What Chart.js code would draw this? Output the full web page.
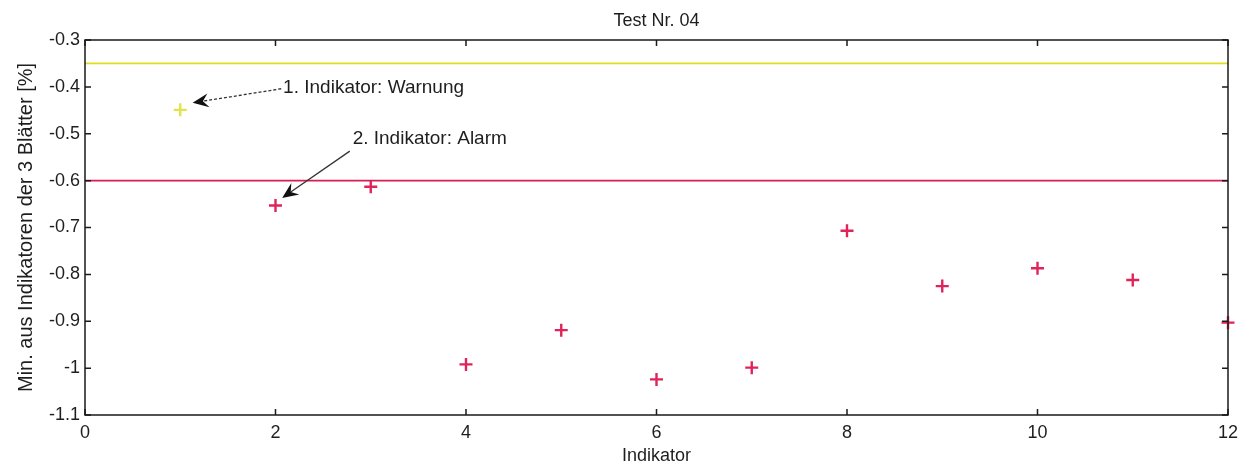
<!DOCTYPE html>
<html>
<head>
<meta charset="utf-8">
<script src="https://cdn.jsdelivr.net/npm/chart.js@4"></script>
<style>
  html, body { margin: 0; padding: 0; background: #fff; }
  #wrap { width: 1250px; height: 467px; }
</style>
</head>
<body>
<div id="wrap"><canvas id="c" width="1250" height="467"></canvas></div>
<script>
// ---- data ----
const titleText = 'Test Nr. 04';
const xTitle = 'Indikator';
const yTitle = 'Min. aus Indikatoren der 3 Blätter [%]';
const indicators = [1, 2, 3, 4, 5, 6, 7, 8, 9, 10, 11, 12];
const minValues = [-0.449, -0.653, -0.613, -0.992, -0.919, -1.024, -0.999, -0.707, -0.825, -0.787, -0.812, -0.903];
const warnLevel = -0.35;
const alarmLevel = -0.6;
const xRange = [0, 12];
const yRange = [-1.1, -0.3];
const xStep = 2;
const yStep = 0.1;
// annotations: text anchor (data units) and arrow from -> to (data units)
const annTexts = ['1. Indikator: Warnung', '2. Indikator: Alarm'];
const annTextPos = [[2.08, -0.402], [2.81, -0.51]];
const annArrowFrom = [[2.06, -0.404], [2.78, -0.537]];
const annArrowTo = [[1.13, -0.434], [2.07, -0.637]];
const annDashed = [true, false];

// ---- styles ----
const RED = '#e0245a';
const REDLINE = '#d81c55';
const YELLOW = '#e0dc22';
const YELLOWPT = '#e2e24c';
const INK = '#1a1a1a';
const TXT = '#1e1e1e';
const FONT = "'Liberation Sans', Arial, sans-serif";

const pts = indicators.map((x, i) => ({ x: x, y: minValues[i] }));
const ptColors = minValues.map(v => v > alarmLevel ? YELLOWPT : RED);

const framePlugin = {
  id: 'frameTicks',
  afterDatasetsDraw(chart) {
    const { ctx, chartArea: a, scales } = chart;
    ctx.save();
    ctx.strokeStyle = INK;
    ctx.lineWidth = 1.5;
    ctx.strokeRect(a.left, a.top, a.right - a.left, a.bottom - a.top);
    const L = 6;
    ctx.beginPath();
    scales.x.ticks.forEach(t => {
      const px = scales.x.getPixelForValue(t.value);
      ctx.moveTo(px, a.bottom); ctx.lineTo(px, a.bottom - L);
      ctx.moveTo(px, a.top); ctx.lineTo(px, a.top + L);
    });
    scales.y.ticks.forEach(t => {
      const py = scales.y.getPixelForValue(t.value);
      ctx.moveTo(a.left, py); ctx.lineTo(a.left + L, py);
      ctx.moveTo(a.right, py); ctx.lineTo(a.right - L, py);
    });
    ctx.stroke();

    // annotations
    ctx.font = '19px ' + FONT;
    ctx.textBaseline = 'middle';
    ctx.textAlign = 'left';
    const X = v => scales.x.getPixelForValue(v);
    const Y = v => scales.y.getPixelForValue(v);
    annTexts.forEach((txt, i) => {
      ctx.fillStyle = TXT;
      ctx.fillText(txt, X(annTextPos[i][0]), Y(annTextPos[i][1]));
      const x0 = X(annArrowFrom[i][0]), y0 = Y(annArrowFrom[i][1]);
      const x1 = X(annArrowTo[i][0]), y1 = Y(annArrowTo[i][1]);
      const ang = Math.atan2(y1 - y0, x1 - x0);
      const hl = 16, hw = 7;
      const bx = x1 - Math.cos(ang) * hl * 0.65, by = y1 - Math.sin(ang) * hl * 0.65;
      ctx.beginPath();
      ctx.setLineDash(annDashed[i] ? [3, 2] : []);
      ctx.strokeStyle = '#333';
      ctx.lineWidth = 1.3;
      ctx.moveTo(x0, y0); ctx.lineTo(bx, by);
      ctx.stroke();
      ctx.setLineDash([]);
      // barbed arrowhead
      const cx = x1 - Math.cos(ang) * hl, cy = y1 - Math.sin(ang) * hl;
      const nx = -Math.sin(ang), ny = Math.cos(ang);
      ctx.beginPath();
      ctx.moveTo(x1, y1);
      ctx.lineTo(cx + nx * hw, cy + ny * hw);
      ctx.lineTo(bx, by);
      ctx.lineTo(cx - nx * hw, cy - ny * hw);
      ctx.closePath();
      ctx.fillStyle = '#111';
      ctx.fill();
    });
    ctx.restore();
  }
};

new Chart(document.getElementById('c'), {
  type: 'scatter',
  data: {
    datasets: [
      {
        type: 'line',
        data: [{ x: xRange[0], y: warnLevel }, { x: xRange[1], y: warnLevel }],
        borderColor: YELLOW, borderWidth: 1.8, pointRadius: 0, fill: false
      },
      {
        type: 'line',
        data: [{ x: xRange[0], y: alarmLevel }, { x: xRange[1], y: alarmLevel }],
        borderColor: REDLINE, borderWidth: 1.8, pointRadius: 0, fill: false
      },
      {
        data: pts,
        pointStyle: 'cross',
        pointRadius: 6.5,
        pointBorderWidth: 2.4,
        pointBorderColor: ptColors,
        pointBackgroundColor: ptColors,
        borderColor: ptColors,
        clip: false
      }
    ]
  },
  options: {
    responsive: false,
    animation: false,
    devicePixelRatio: 1,
    events: [],
    layout: { padding: { top: 0, right: 22, left: 0, bottom: 0 } },
    plugins: {
      legend: { display: false },
      tooltip: { enabled: false },
      title: {
        display: true,
        fullSize: false,
        text: titleText,
        color: TXT,
        font: { family: FONT, size: 18, weight: 'normal' },
        padding: { top: 9.8, bottom: 8.6 }
      }
    },
    scales: {
      x: {
        type: 'linear',
        min: xRange[0], max: xRange[1],
        grid: { display: false, drawTicks: false },
        border: { display: false },
        ticks: {
          stepSize: xStep, padding: 7.4, color: TXT,
          font: { family: FONT, size: 18 },
          maxRotation: 0
        },
        title: {
          display: true, text: xTitle, color: TXT,
          font: { family: FONT, size: 18 },
          padding: { top: 0, bottom: 0 }
        },
        afterFit(s) { s.height = 52; }
      },
      y: {
        type: 'linear',
        min: yRange[0], max: yRange[1],
        grid: { display: false, drawTicks: false },
        border: { display: false },
        ticks: {
          stepSize: yStep, padding: 5, color: TXT,
          font: { family: FONT, size: 18 },
          callback: v => String(parseFloat(Number(v).toFixed(1)))
        },
        title: {
          display: true, text: yTitle, color: TXT,
          font: { family: FONT, size: 20 },
          padding: { top: 14, bottom: 0 }
        },
        afterFit(s) { s.width = 85; }
      }
    }
  },
  plugins: [framePlugin]
});
</script>
</body>
</html>
